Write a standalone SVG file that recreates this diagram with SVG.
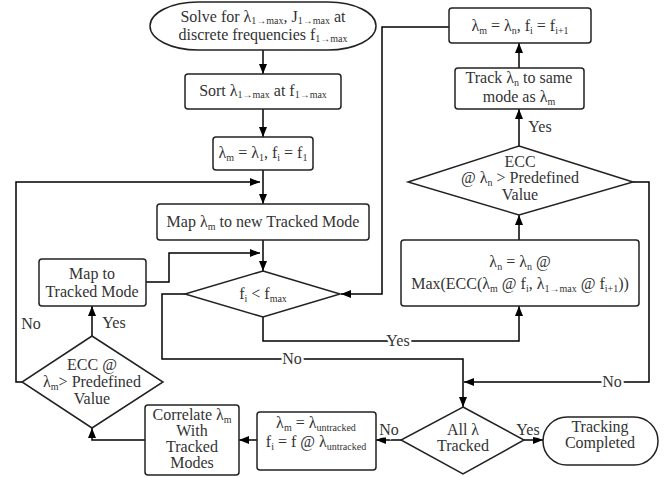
<svg xmlns="http://www.w3.org/2000/svg" width="672" height="477" viewBox="0 0 672 477">
<defs>
<marker id="ah" markerWidth="10" markerHeight="8" refX="10" refY="4" orient="auto" markerUnits="userSpaceOnUse">
<path d="M0,0 L10,4 L0,8 z" fill="#000"/>
</marker>
<style>
.shape{fill:#fff;stroke:#222;stroke-width:1.5}
.t{font-family:"Times New Roman","Liberation Serif","DejaVu Serif",serif;font-size:16px;fill:#333;text-anchor:middle}
.s{font-size:10px}
.ca{fill:none;stroke:#000;stroke-width:1.5;marker-end:url(#ah)}
.lbl{font-family:"Times New Roman","Liberation Serif","DejaVu Serif",serif;font-size:16px;fill:#333;stroke:#fff;stroke-width:5;paint-order:stroke;text-anchor:middle}
</style>
</defs>
<rect width="672" height="477" fill="#fff"/>

<g id="connectors">
<path class="ca" d="M263,50 V74"/>
<path class="ca" d="M263,109 V137"/>
<path class="ca" d="M263,170 V204"/>
<path class="ca" d="M22,382 H16 V182 H260"/>
<path class="ca" d="M263,240 V271"/>
<path class="ca" d="M146,282 H169 V253 H260"/>
<path class="ca" d="M185,294 H162 V359 H463 V407"/>
<path class="ca" d="M263,317 V341 H519 V306"/>
<path class="ca" d="M519,240 V215"/>
<path class="ca" d="M519,146 V109"/>
<path class="ca" d="M519,68 V43"/>
<path class="ca" d="M449,27 H382 V294 H341"/>
<path class="ca" d="M633,182 H649 V382 H464"/>
<path class="ca" d="M401,440 H376"/>
<path class="ca" d="M524,440 H543"/>
<path class="ca" d="M257,440 H239"/>
<path class="ca" d="M145,440 H92 V428"/>
<path class="ca" d="M92,336 V306"/>
<text class="lbl" x="31" y="329">No</text>
<text class="lbl" x="114" y="328">Yes</text>
<text class="lbl" x="292" y="364">No</text>
<text class="lbl" x="398" y="346">Yes</text>
<text class="lbl" x="612" y="387">No</text>
<text class="lbl" x="540" y="132">Yes</text>
<text class="lbl" x="389" y="435">No</text>
<text class="lbl" x="528" y="435">Yes</text>
</g>

<g id="start">
<rect class="shape" x="150" y="2" width="226" height="48" rx="48" ry="24"/>
<text class="t" x="263" y="22">Solve for λ<tspan class="s" dy="2">1→max</tspan><tspan dy="-2">, J</tspan><tspan class="s" dy="2">1→max</tspan><tspan dy="-2"> at</tspan></text>
<text class="t" x="263" y="40">discrete frequencies f<tspan class="s" dy="2">1→max</tspan></text>
</g>

<g id="sort">
<rect class="shape" x="185" y="74" width="156" height="35" rx="3"/>
<text class="t" x="263" y="96">Sort λ<tspan class="s" dy="2">1→max</tspan><tspan dy="-2"> at f</tspan><tspan class="s" dy="2">1→max</tspan></text>
</g>

<g id="init">
<rect class="shape" x="213" y="137" width="100" height="33" rx="3"/>
<text class="t" x="263" y="158">λ<tspan class="s" dy="3">m</tspan><tspan dy="-3"> = λ</tspan><tspan class="s" dy="3">1</tspan><tspan dy="-3">, f</tspan><tspan class="s" dy="3">i</tspan><tspan dy="-3"> = f</tspan><tspan class="s" dy="3">1</tspan></text>
</g>

<g id="mapnew">
<rect class="shape" x="157" y="204" width="212" height="36" rx="3"/>
<text class="t" x="263" y="227">Map λ<tspan class="s" dy="3">m</tspan><tspan dy="-3"> to new Tracked Mode</tspan></text>
</g>

<g id="fcheck">
<polygon class="shape" points="263,271 340,294 263,317 185,294"/>
<text class="t" x="263" y="299">f<tspan class="s" dy="3">i</tspan><tspan dy="-3"> &lt; f</tspan><tspan class="s" dy="3">max</tspan></text>
</g>

<g id="maptracked">
<rect class="shape" x="39" y="259" width="107" height="47" rx="3"/>
<text class="t" x="92" y="279">Map to</text>
<text class="t" x="92" y="297">Tracked Mode</text>
</g>

<g id="ecc-m">
<polygon class="shape" points="92,336 163,382 92,428 22,382"/>
<text class="t" x="92" y="370">ECC @</text>
<text class="t" x="92" y="387">λ<tspan class="s" dy="3">m</tspan><tspan dy="-3">&gt; Predefined</tspan></text>
<text class="t" x="92" y="404">Value</text>
</g>

<g id="correlate">
<rect class="shape" x="145" y="405" width="94" height="70" rx="3"/>
<text class="t" x="192" y="420">Correlate λ<tspan class="s" dy="3">m</tspan></text>
<text class="t" x="192" y="436">With</text>
<text class="t" x="192" y="452">Tracked</text>
<text class="t" x="192" y="468">Modes</text>
</g>

<g id="untracked">
<rect class="shape" x="257" y="412" width="119" height="58" rx="3"/>
<text class="t" x="316" y="428">λ<tspan class="s" dy="3">m</tspan><tspan dy="-3"> = λ</tspan><tspan class="s" dy="3">untracked</tspan></text>
<text class="t" x="316" y="447">f<tspan class="s" dy="3">i</tspan><tspan dy="-3"> = f @ λ</tspan><tspan class="s" dy="3">untracked</tspan></text>
</g>

<g id="alltracked">
<polygon class="shape" points="463,407 524,440 463,474 401,440"/>
<text class="t" x="463" y="435">All λ</text>
<text class="t" x="463" y="451">Tracked</text>
</g>

<g id="done">
<rect class="shape" x="543" y="417" width="115" height="48" rx="24" ry="24"/>
<text class="t" x="600" y="432">Tracking</text>
<text class="t" x="600" y="448">Completed</text>
</g>

<g id="maxecc">
<rect class="shape" x="401" y="240" width="238" height="66" rx="3"/>
<text class="t" x="520" y="267">λ<tspan class="s" dy="3">n</tspan><tspan dy="-3"> = λ</tspan><tspan class="s" dy="3">n</tspan><tspan dy="-3"> @</tspan></text>
<text class="t" x="520" y="289">Max(ECC(λ<tspan class="s" dy="3">m</tspan><tspan dy="-3"> @ f</tspan><tspan class="s" dy="3">i</tspan><tspan dy="-3">, λ</tspan><tspan class="s" dy="3">1→max</tspan><tspan dy="-3"> @ f</tspan><tspan class="s" dy="3">i+1</tspan><tspan dy="-3">))</tspan></text>
</g>

<g id="ecc-n">
<polygon class="shape" points="519,146 633,182 519,215 408,182"/>
<text class="t" x="520" y="167">ECC</text>
<text class="t" x="520" y="183">@ λ<tspan class="s" dy="3">n</tspan><tspan dy="-3"> &gt; Predefined</tspan></text>
<text class="t" x="520" y="200">Value</text>
</g>

<g id="track">
<rect class="shape" x="455" y="68" width="129" height="41" rx="3"/>
<text class="t" x="519" y="83">Track λ<tspan class="s" dy="3">n</tspan><tspan dy="-3"> to same</tspan></text>
<text class="t" x="519" y="102">mode as λ<tspan class="s" dy="3">m</tspan></text>
</g>

<g id="update">
<rect class="shape" x="449" y="8" width="142" height="35" rx="3"/>
<text class="t" x="520" y="31">λ<tspan class="s" dy="3">m</tspan><tspan dy="-3"> = λ</tspan><tspan class="s" dy="3">n</tspan><tspan dy="-3">, f</tspan><tspan class="s" dy="3">i</tspan><tspan dy="-3"> = f</tspan><tspan class="s" dy="3">i+1</tspan></text>
</g>
</svg>
